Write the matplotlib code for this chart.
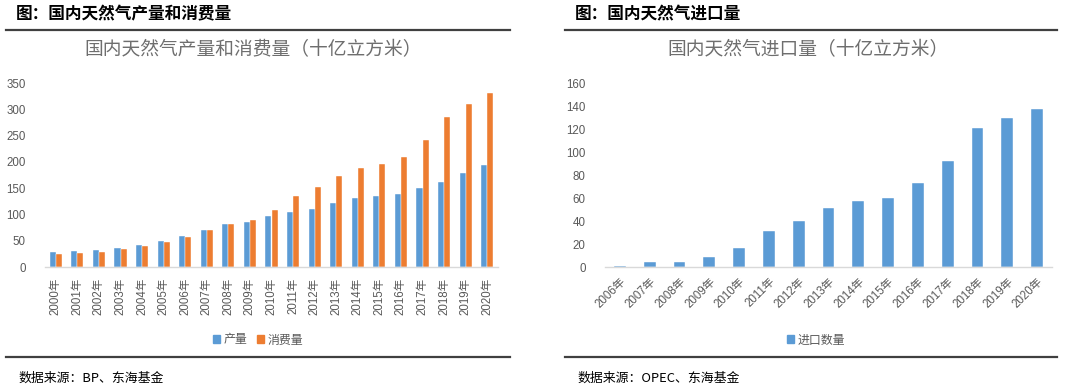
import matplotlib
matplotlib.use('Agg')
import numpy as np
import matplotlib.pyplot as plt
from matplotlib.lines import Line2D
from matplotlib.patches import Patch

#==========================================================
# Data
#==========================================================
years_a = ['%d年' % y for y in range(2000, 2021)]
production = [27.9, 29.8, 32.3, 35.5, 41.2, 49.5, 58.3, 69.8, 81.2, 85.6, 97.0,
              105.3, 111.0, 121.0, 131.3, 135.7, 138.9, 150.3, 161.7, 178.2, 194.0]
consumption = [24.1, 27.3, 28.5, 34.2, 40.0, 47.0, 57.0, 71.0, 81.2, 89.4, 108.4,
               135.7, 151.6, 173.0, 188.3, 195.3, 209.9, 241.6, 285.4, 310.0, 331.0]

years_b = ['%d年' % y for y in range(2006, 2021)]
imports = [1.2, 4.2, 4.6, 8.4, 16.9, 31.1, 40.1, 52.0, 57.9, 60.5, 73.3,
           92.5, 121.6, 130.0, 138.5]

#==========================================================
# Style
#==========================================================
plt.rcParams['font.family'] = ['Liberation Sans', 'Noto Sans CJK SC']
CJK = ['Noto Sans CJK SC', 'Liberation Sans']
c_blue = '#5B9BD5'
c_orange = '#ED7D31'
c_tick = '#595959'
c_axis = '#D9D9D9'

W, H = 1080, 392
fig = plt.figure(figsize=(W/100, H/100), dpi=100)

def px_ax(l, t, r, b):
    return fig.add_axes([l/W, 1-b/H, (r-l)/W, (b-t)/H])

def fx(x): return x/W
def fy(y): return 1-y/H

def style_ax(ax):
    for s in ['top', 'right', 'left']:
        ax.spines[s].set_visible(False)
    ax.spines['bottom'].set_color(c_axis)
    ax.spines['bottom'].set_linewidth(1.0)
    ax.tick_params(length=0, labelsize=8.3, colors=c_tick)
    ax.tick_params(axis='y', pad=14)

def frame(x0, x1, header, source):
    fig.text(fx(x0+10), fy(14), header, family=CJK, fontsize=12,
             fontweight='heavy', ha='left', va='center', color='black')
    fig.add_artist(Line2D([fx(x0), fx(x1)], [fy(30), fy(30)], color='#404040', lw=1.6))
    fig.add_artist(Line2D([fx(x0), fx(x1)], [fy(357), fy(357)], color='#404040', lw=1.6))
    fig.text(fx(x0+12), fy(378), source, family=CJK, fontsize=9.3,
             ha='left', va='center', color='black')

#==========================================================
# panel (a) - production & consumption
#==========================================================
frame(6, 510, '图：国内天然气产量和消费量', '数据来源：BP、东海基金')
ax1 = px_ax(45, 83, 498, 267)
x = np.arange(len(years_a))
w = 0.28
ax1.bar(x - w/2, production, w, color=c_blue, edgecolor='white', linewidth=0.3, label='产量')
ax1.bar(x + w/2, consumption, w, color=c_orange, edgecolor='white', linewidth=0.3, label='消费量')
ax1.set_xlim(-0.5, len(years_a) - 0.5)
ax1.set_ylim(0, 350)
ax1.set_yticks(np.arange(0, 351, 50))
ax1.set_xticks(x)
ax1.set_xticklabels(years_a, rotation=90, fontsize=8.5)
style_ax(ax1)
ax1.tick_params(axis='x', pad=8)
fig.text(fx(253), fy(50), '国内天然气产量和消费量（十亿立方米）', family=CJK,
         fontsize=13.5, fontweight='light', color='#6E6E6E', ha='center', va='center')
h1 = [Patch(color=c_blue), Patch(color=c_orange)]
fig.legend(h1, ['产量', '消费量'], loc='center', bbox_to_anchor=(fx(258), fy(340)),
           ncol=2, frameon=False, handlelength=0.6, handleheight=0.6,
           handletextpad=0.3, columnspacing=0.8,
           prop={'family': CJK, 'size': 8.6}, labelcolor=c_tick)

#==========================================================
# panel (b) - imports
#==========================================================
frame(565, 1057, '图：国内天然气进口量', '数据来源：OPEC、东海基金')
ax2 = px_ax(605, 84, 1052, 267)
x = np.arange(len(years_b))
ax2.bar(x, imports, 0.4, color=c_blue, edgecolor='white', linewidth=0.3, label='进口数量')
ax2.set_xlim(-0.5, len(years_b) - 0.5)
ax2.set_ylim(0, 160)
ax2.set_yticks(np.arange(0, 161, 20))
ax2.set_xticks(x)
ax2.set_xticklabels(years_b, rotation=45, ha='right', rotation_mode='anchor', fontsize=8.5)
style_ax(ax2)
ax2.tick_params(axis='x', pad=6)
fig.text(fx(808), fy(50), '国内天然气进口量（十亿立方米）', family=CJK,
         fontsize=13.5, fontweight='light', color='#6E6E6E', ha='center', va='center')
fig.legend([Patch(color=c_blue)], ['进口数量'], loc='center', bbox_to_anchor=(fx(816), fy(340)),
           frameon=False, handlelength=0.6, handleheight=0.6, handletextpad=0.3,
           prop={'family': CJK, 'size': 8.6}, labelcolor=c_tick)

plt.savefig('out.png', dpi=100)
